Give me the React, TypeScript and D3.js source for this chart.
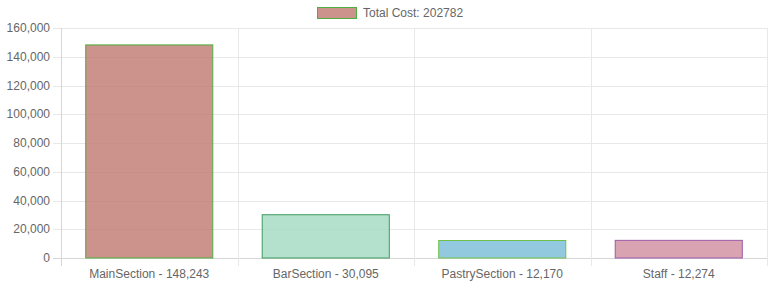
import React from 'react';
import * as d3 from 'd3';

const categories = ['MainSection', 'BarSection', 'PastrySection', 'Staff'];
const costs = [148243, 30095, 12170, 12274];
const fills = ['rgba(190,120,110,0.8)', 'rgba(160,218,192,0.8)', 'rgba(120,188,215,0.8)', 'rgba(208,140,158,0.8)'];
const borders = ['#4caf3e', '#3e9a5c', '#6cc04a', '#9a5aaa'];
const yTicks = [0, 20000, 40000, 60000, 80000, 100000, 120000, 140000, 160000];

const width = 769;
const height = 288;
const left = 61;
const right = 767;
const top = 28;
const bottom = 258;
const font = 'Liberation Sans, Arial, Helvetica, sans-serif';

const App = () => {
  const x = d3.scaleBand().domain(categories).range([left, right]);
  const y = d3.scaleLinear().domain([0, 160000]).range([bottom, top]);
  const fmt = d3.format(',');
  const total = d3.sum(costs);
  const barW = x.bandwidth() * 0.72;

  return (
    <svg width={width} height={height} style={{ position: 'absolute', left: 0, top: 0 }}>
      {/* legend */}
      <rect x={317.5} y={7.5} width={39} height={11} fill={fills[0]} stroke={borders[0]} />
      <text x={363} y={17} fontSize={12} fontFamily={font} fill="#666">
        Total Cost: {total}
      </text>

      {yTicks.map(t => (
        <g key={t}>
          <line x1={53} x2={right} y1={Math.round(y(t)) + 0.5} y2={Math.round(y(t)) + 0.5}
                stroke={t === 0 ? '#d6d6d6' : '#e8e8e8'} />
          <text x={50} y={y(t) + 4} textAnchor="end" fontSize={12} fontFamily={font} fill="#666">
            {fmt(t)}
          </text>
        </g>
      ))}

      {d3.range(categories.length + 1).map(i => {
        const gx = Math.round(left + i * x.step()) + 0.5;
        return <line key={i} x1={gx} x2={gx} y1={top} y2={266} stroke={i === 0 ? '#d6d6d6' : '#e8e8e8'} />;
      })}

      {categories.map((c, i) => {
        const cx = (x(c) as number) + x.bandwidth() / 2;
        return (
          <g key={c}>
            <rect x={cx - barW / 2} y={y(costs[i])} width={barW} height={bottom - y(costs[i])}
                  fill={fills[i]} stroke={borders[i]} strokeWidth={1} />
            <text x={cx} y={278} textAnchor="middle" fontSize={12} fontFamily={font} fill="#666">
              {c} - {fmt(costs[i])}
            </text>
          </g>
        );
      })}
    </svg>
  );
};

export default App;
